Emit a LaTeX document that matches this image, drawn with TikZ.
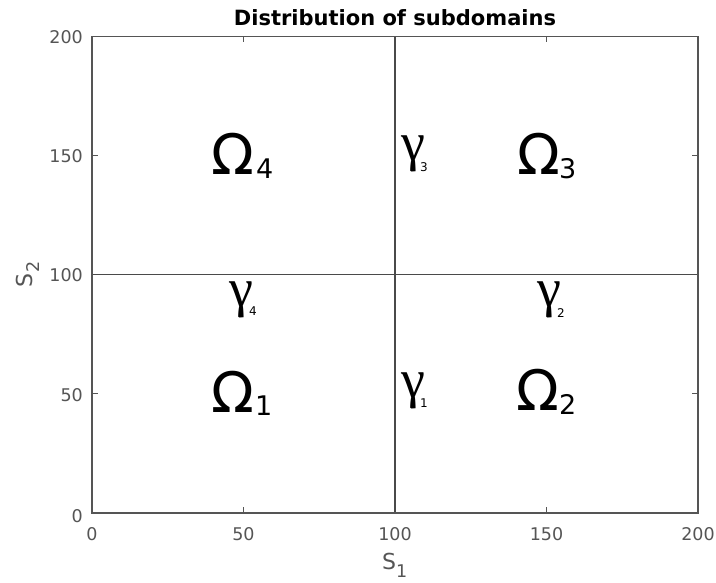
\documentclass[tikz,border=0pt]{standalone}
\usepackage{fontspec}
\setmainfont{DejaVu Sans}
\newfontfamily\gamfont{Liberation Serif}
\definecolor{axgray}{HTML}{555555}
\definecolor{linegray}{HTML}{4A4A4A}
\begin{document}
\begin{tikzpicture}[x=1pt,y=-1pt,
  ticklab/.style={text=axgray,inner sep=0pt,font=\fontsize{17.5}{18}\selectfont},
  biglab/.style={inner sep=0pt,anchor=base west,font=\fontsize{56}{60}\selectfont},
  bigsub/.style={inner sep=0pt,anchor=base west,font=\fontsize{27}{28}\selectfont},
  gamlab/.style={inner sep=0pt,anchor=base west,font=\gamfont\fontsize{54}{56}\selectfont},
  gamsub/.style={inner sep=0pt,anchor=base west,font=\fontsize{12}{14}\selectfont},
  frameline/.style={draw=axgray,line width=1.4pt},
  crossline/.style={draw=linegray,line width=1.3pt},
  tickline/.style={draw=axgray,line width=1pt}]
\useasboundingbox (0,0) rectangle (716,583);
\fill[white] (0,0) rectangle (716,583);
% frame corners
\coordinate (bl) at (92,513);
\coordinate (tr) at (698,36.5);
\coordinate (midB) at (395,513);
\coordinate (midT) at (395,36.5);
\coordinate (midL) at (92,274.75);
\coordinate (midR) at (698,274.75);
% ticks
\foreach \v/\x in {50/243.5,150/546.5}{
  \coordinate (xb\v) at (\x,513);
  \coordinate (xt\v) at (\x,36.5);
  \draw[tickline] (xb\v) -- ++(0,-6);
  \draw[tickline] (xt\v) -- ++(0,6);
}
\foreach \v/\y in {50/393.9,150/155.6}{
  \coordinate (yl\v) at (92,\y);
  \coordinate (yr\v) at (698,\y);
  \draw[tickline] (yl\v) -- ++(6,0);
  \draw[tickline] (yr\v) -- ++(-6,0);
}
% cross lines
\draw[crossline] (midB) -- (midT);
\draw[crossline] (midL) -- (midR);
\draw[frameline] (bl) rectangle (tr);
% tick labels x
\foreach \v/\x in {0/92,50/243.5,100/395,150/546.5,200/698}{
  \node[ticklab,anchor=base] (xl\v) at (\x,540) {\v};
}
% tick labels y
\foreach \v/\y in {0/522,50/401,100/282,150/163,200/44}{
  \node[ticklab,anchor=base east] (ylab\v) at (83,\y) {\v};
}
% axis labels
\node[ticklab,anchor=base west,font=\fontsize{22}{24}\selectfont] (s1) at (382,569) {S};
\node[ticklab,anchor=base west,font=\fontsize{17.5}{18}\selectfont] (s1sub) at (396,577) {1};
\node[ticklab,anchor=base west,rotate=90,font=\fontsize{22}{24}\selectfont] (s2) at (32,288) {S};
\node[ticklab,anchor=base west,rotate=90,font=\fontsize{17.5}{18}\selectfont] (s2sub) at (39,273) {2};
% title
\node[inner sep=0pt,anchor=base,font=\bfseries\fontsize{21}{22}\selectfont] (title) at (395,26) {Distribution of subdomains};
% Omega labels
\node[biglab] (O4) at (211,175) {Ω};
\node[bigsub] (O4s) at (256,179) {4};
\node[biglab] (O3) at (517,175) {Ω};
\node[bigsub] (O3s) at (559,179) {3};
\node[biglab] (O1) at (211,412) {Ω};
\node[bigsub] (O1s) at (255,415) {1};
\node[biglab] (O2) at (516,410) {Ω};
\node[bigsub] (O2s) at (559,414) {2};
% gamma labels
\node[gamlab] (g3) at (401,161) {γ};
\node[gamsub] (g3s) at (420,172) {3};
\node[gamlab] (g4) at (229,306) {γ};
\node[gamsub] (g4s) at (249,316) {4};
\node[gamlab] (g2) at (537,307) {γ};
\node[gamsub] (g2s) at (557,317) {2};
\node[gamlab] (g1) at (401,397) {γ};
\node[gamsub] (g1s) at (420,407) {1};
\end{tikzpicture}
\end{document}
